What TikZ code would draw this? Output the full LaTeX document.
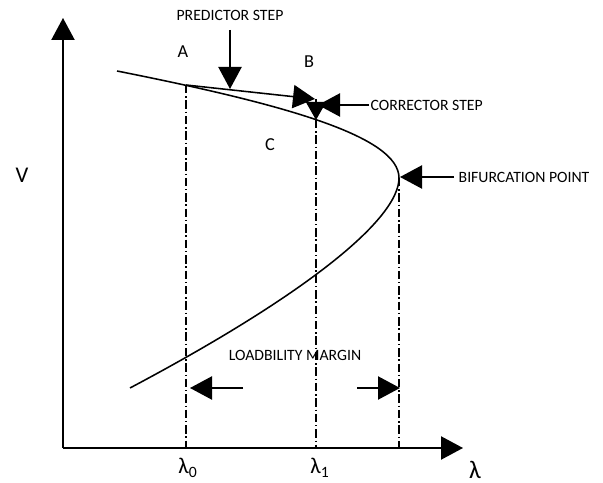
\documentclass[tikz,border=0pt]{standalone}
\usepackage{fontspec}
\setmainfont{Carlito}
\usepackage{tikz}
\usetikzlibrary{positioning,arrows.meta,calc}

\begin{document}
\begin{tikzpicture}[scale=1.0,>={Triangle[length=0.55cm,width=0.58cm]},
		lbl/.style={font=\fontsize{11.2}{13}\selectfont,inner sep=1pt},
		pt/.style={font=\fontsize{13}{15}\selectfont},
		guide/.style={line width=0.9pt,dash pattern=on 6pt off 2pt on 1pt off 2pt}]
		
		\useasboundingbox (-1.575,-0.875) rectangle (13.5,11.2);
		
		% Axes
		\coordinate (O) at (0,0);
		\coordinate (xend) at (10.0,0);
		\coordinate (yend) at (0,10.75);
		\draw[->,line width=1.1pt] (O)--(xend);
		\draw[->,line width=1.1pt] (O)--(yend);
		\node[font=\fontsize{16}{18}\selectfont] (vlab) at (-1.025,6.825){V};
		\node[font=\fontsize{18}{20}\selectfont] (llab) at (10.3,-0.55){λ};
		
		% Nose curve
		\draw[line width=1.1pt]
		(1.35,9.425) .. controls (5.5,8.6) and (8.4,7.8) .. (8.4,6.75)
		.. controls (8.4,5.75) and (6.2,3.9) .. (1.675,1.5);
		
		% Points on the curve
		\coordinate (ptA) at (3.075,9.075);
		\coordinate (ptB) at (6.325,8.725);
		\coordinate (ptC) at (6.325,8.2);
		\coordinate (nose) at (8.425,6.775);
		
		% Guide lines
		\draw[guide] (ptA)--(ptA|-O);
		\draw[guide] (ptC)--(ptC|-O);
		\draw[guide] (8.4,6.75)--(8.4,0);
		
		\node[font=\fontsize{16}{18}\selectfont] (l0) at (3.125,-0.5){λ\textsubscript{0}};
		\node[font=\fontsize{16}{18}\selectfont] (l1) at (6.425,-0.5){λ\textsubscript{1}};
		
		% Predictor and corrector
		\draw[->,line width=1.1pt] (ptA)--(6.3,8.725);
		\draw[-{Triangle[length=0.45cm,width=0.5cm]},line width=1.1pt] (ptB)--(ptC);
		
		\node[pt] (A) at (3.0,9.9){A};
		\node[pt] (B) at (6.15,9.65){B};
		\node[pt] (C) at (5.175,7.575){C};
		
		\node[lbl] (pred) at (4.175,10.825){PREDICTOR STEP};
		\coordinate (pstart) at (4.175,10.45);
		\draw[->,line width=1.1pt] (pstart)--(4.175,8.975);
		
		\node[lbl,anchor=west] (corr) at (7.65,8.575){CORRECTOR STEP};
		\draw[->,line width=1.1pt] (corr.west)--(6.375,8.575);
		
		\node[lbl,anchor=west] (bif) at (9.85,6.775){BIFURCATION POINT};
		\draw[->,line width=1.1pt] ([xshift=-2pt]bif.west)--(nose);
		
		% Loadability margin
		\node[lbl] (lm) at (5.8,2.325){LOADBILITY MARGIN};
		\coordinate (mleft) at (4.5,1.5);
		\coordinate (mright) at (7.35,1.5);
		\draw[->,line width=1.1pt] (mleft)--(3.175,1.5);
		\draw[->,line width=1.1pt] (mright)--(8.425,1.5);
		
	\end{tikzpicture}
\end{document}
